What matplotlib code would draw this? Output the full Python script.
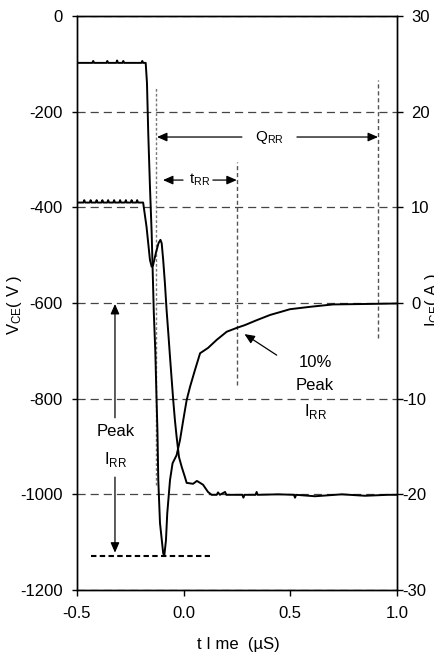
import matplotlib

matplotlib.use("Agg")
import matplotlib.pyplot as plt
from matplotlib.transforms import blended_transform_factory, ScaledTranslation

# 反向恢复电流 ICE (A)，右轴
t_ice = [-0.500, -0.428, -0.424, -0.420, -0.362, -0.358, -0.354, -0.316, -0.312,
         -0.308, -0.287, -0.283, -0.279, -0.198, -0.194, -0.190, -0.178, -0.172,
         -0.166, -0.158, -0.150, -0.146, -0.140, -0.133, -0.127, -0.123, -0.119,
         -0.111, -0.096, -0.091, -0.083, -0.077, -0.064, -0.052, -0.033, -0.017,
         -0.002, 0.014, 0.030, 0.053, 0.077, 0.114, 0.155, 0.202, 0.249, 0.288,
         0.342, 0.405, 0.452, 0.498, 0.592, 0.700, 0.860, 1.000]
i_ce = [25.1, 25.1, 25.3, 25.1, 25.1, 25.3, 25.1, 25.1, 25.35,
        25.1, 25.1, 25.3, 25.1, 25.1, 25.3, 25.1, 25.1, 23.0,
        17.75, 12.15, 7.3, 4.0, -1.0, -5.0, -10.15, -13.3, -18.5,
        -23.0, -26.15, -26.45, -24.8, -22.0, -18.5, -16.75, -15.9, -14.3,
        -12.25, -10.15, -8.75, -7.0, -5.25, -4.7, -3.85, -3.0, -2.6, -2.3,
        -1.8, -1.25, -0.95, -0.65, -0.4, -0.15, -0.1, -0.05]

# 集电极-发射极电压 VCE (V)，左轴
t_vce = [-0.500, -0.470, -0.466, -0.462, -0.440, -0.436, -0.432, -0.412, -0.408,
         -0.404, -0.385, -0.381, -0.377, -0.358, -0.354, -0.350, -0.330, -0.326,
         -0.322, -0.302, -0.298, -0.294, -0.275, -0.271, -0.267, -0.248, -0.244,
         -0.240, -0.222, -0.218, -0.214, -0.190, -0.174, -0.158, -0.150, -0.144,
         -0.130, -0.118, -0.109, -0.103, -0.096, -0.088, -0.080, -0.072, -0.064,
         -0.056, -0.049, -0.041, -0.033, -0.022, -0.009, 0.006, 0.014, 0.044,
         0.062, 0.077, 0.091, 0.114, 0.131, 0.155, 0.161, 0.170, 0.194, 0.200,
         0.275, 0.280, 0.285, 0.337, 0.342, 0.347, 0.443, 0.517, 0.522, 0.527,
         0.616, 0.741, 0.850, 0.958, 1.000]
v_ce = [-390, -390, -385, -390, -390, -385, -390, -390, -385,
        -390, -390, -385, -390, -390, -385, -390, -390, -385,
        -390, -390, -385, -390, -390, -385, -390, -390, -385,
        -390, -390, -385, -390, -390, -441, -510, -524, -522,
        -495, -475, -468, -475, -510, -558, -615, -663, -713,
        -761, -803, -845, -880, -922, -943, -964, -976, -978,
        -972, -976, -980, -995, -1001, -1001, -996, -1001, -995, -1001,
        -1001, -1007, -1001, -1001, -995, -1001, -1000, -1001, -1007, -1001,
        -1004, -1000, -1003, -1001, -1001]

x_ticks = [-0.5, 0.0, 0.5, 1.0]
v_ticks = [0, -200, -400, -600, -800, -1000, -1200]
i_ticks = [30, 20, 10, 0, -10, -20, -30]

# 标注用的时间点 / 电压值
t_rr_start = -0.131
t_rr_end = 0.252
t_qrr_end = 0.912
v_peak = -1129
t_peak_line = [-0.434, 0.123]


def arrow(ax, start, end):
    ax.annotate("", xy=end, xytext=start,
                arrowprops=dict(arrowstyle="-|>,head_length=0.5,head_width=0.22",
                                color="black", lw=0.9, mutation_scale=12,
                                shrinkA=0, shrinkB=0))


def main() -> None:
    plt.rcParams["font.family"] = ["Liberation Sans", "DejaVu Sans"]
    plt.rcParams["mathtext.fontset"] = "custom"
    plt.rcParams["mathtext.rm"] = "Liberation Sans"
    plt.rcParams["axes.unicode_minus"] = False

    fig = plt.figure(figsize=(4.35, 6.58), dpi=100)
    ax = fig.add_axes([77 / 435, 68 / 658, 320 / 435, 574 / 658])
    ax2 = ax.twinx()

    ax.plot(t_vce, v_ce, color="black", lw=1.4, zorder=3)
    ax2.plot(t_ice, i_ce, color="black", lw=1.4, zorder=3)

    ax.set_xlim(-0.5, 1.0)
    ax.set_ylim(-1200, 0)
    ax2.set_ylim(-30, 30)

    ax.set_xticks(x_ticks)
    ax.set_xticklabels([f"{x:.1f}" for x in x_ticks])
    ax.set_yticks(v_ticks)
    ax.tick_params(axis="both", direction="out", labelsize=12, width=1)
    ax.tick_params(axis="y", length=3.6, pad=6.5)
    ax.tick_params(axis="x", length=4.3, pad=7)
    ax.grid(axis="y", color="#444444", lw=0.9, linestyle=(0, (6.5, 4)))
    for s in ax.spines.values():
        s.set_linewidth(1)
    for s in ax2.spines.values():
        s.set_linewidth(1)

    ax2.set_yticks(i_ticks)
    ax2.tick_params(axis="y", direction="out", length=4.3, width=1, labelright=False)
    trans = blended_transform_factory(ax2.transAxes, ax2.transData)
    for v in i_ticks:
        dx = 14 if v >= 0 else 5
        ax2.text(1.0, v, f"{v}", fontsize=12, ha="left", va="center_baseline",
                 transform=trans + ScaledTranslation(dx / 100, 0, fig.dpi_scale_trans),
                 clip_on=False)

    # 虚线标记
    ax.vlines(t_rr_start, -980, -150, colors="#777777", lw=1, linestyles=[(0, (2, 1.5))], zorder=2)
    ax.vlines(t_rr_end, -772, -305, colors="#555555", lw=1, linestyles=[(0, (3, 2))], zorder=2)
    ax.vlines(t_qrr_end, -673, -134, colors="#555555", lw=1, linestyles=[(0, (3, 2))], zorder=2)
    ax.plot(t_peak_line, [v_peak, v_peak], color="black", lw=1.5,
            linestyle=(0, (2.6, 1.6)), zorder=2)

    # QRR
    arrow(ax, (0.273, -253), (-0.125, -253))
    arrow(ax, (0.531, -253), (0.911, -253))
    ax.text(0.40, -255, r"Q$_{\mathregular{RR}}$", fontsize=11, ha="center", va="center")

    # tRR
    arrow(ax, (-0.003, -343), (-0.097, -343))
    arrow(ax, (0.137, -343), (0.249, -343))
    ax.text(0.077, -343, r"t$_{\mathregular{RR}}$", fontsize=11, ha="center", va="center")

    # Peak IRR
    arrow(ax, (-0.322, -840), (-0.322, -602))
    arrow(ax, (-0.322, -964), (-0.322, -1122))
    ax.text(-0.318, -869, "Peak", fontsize=12, ha="center", va="center")
    ax.text(-0.318, -928, r"I$_{\mathregular{RR}}$", fontsize=12, ha="center", va="center")

    # 10% Peak IRR
    arrow(ax, (0.436, -709), (0.285, -665))
    ax.text(0.616, -725, "10%", fontsize=12, ha="center", va="center")
    ax.text(0.616, -772, "Peak", fontsize=12, ha="center", va="center")
    ax.text(0.620, -827, r"I$_{\mathregular{RR}}$", fontsize=12, ha="center", va="center")

    fig.text(15 / 435, 1 - 305 / 658, r"V$\mathregular{_{CE}}$( V )", fontsize=12,
             rotation=90, ha="center", va="center")
    # 原图右侧轴标题被图边裁掉一部分
    fig.text(433 / 435, 1 - 300 / 658, r"I$\mathregular{_{CE}}$( A )", fontsize=12,
             rotation=90, ha="center", va="center")
    fig.text(238 / 435, 1 - 645 / 658, "t I me  (µS)", fontsize=12, ha="center", va="center")

    fig.savefig("out.png", dpi=100, facecolor="white")


if __name__ == "__main__":
    main()
